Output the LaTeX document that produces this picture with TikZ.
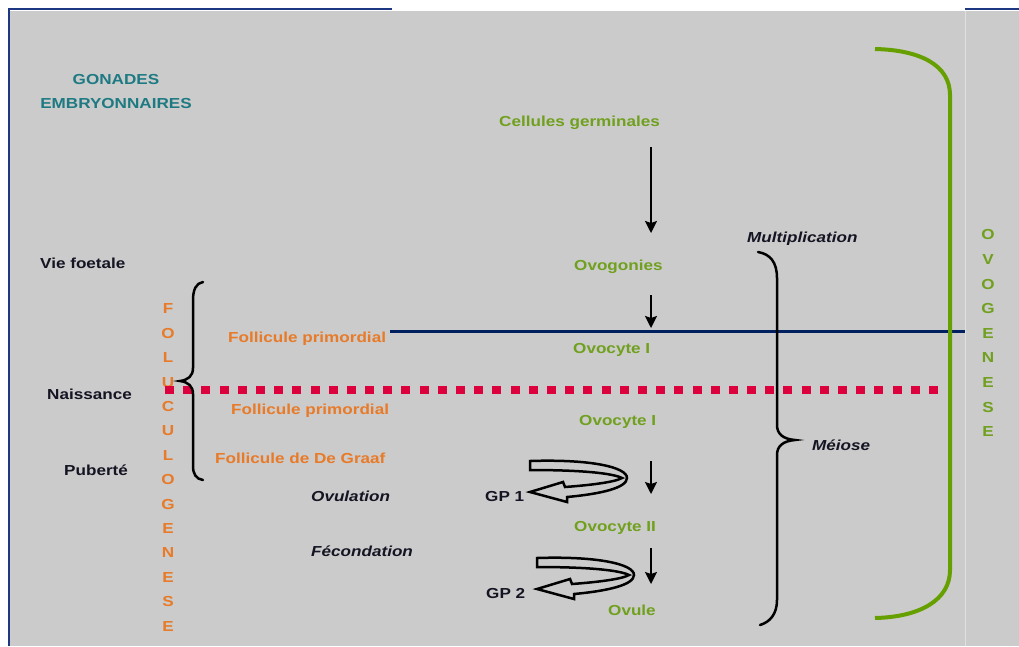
\documentclass[tikz,border=0pt]{standalone}
\usepackage{fontspec}
\setmainfont[FakeStretch=1.18]{Liberation Sans}
\usetikzlibrary{arrows.meta}
\definecolor{bg}{RGB}{203,203,203}
\definecolor{frame}{RGB}{30,55,130}
\definecolor{navy}{RGB}{0,32,96}
\definecolor{tgreen}{RGB}{112,160,30}
\definecolor{bgreen}{RGB}{102,160,0}
\definecolor{torange}{RGB}{232,122,40}
\definecolor{tteal}{RGB}{30,122,130}
\definecolor{tblack}{RGB}{20,20,35}
\definecolor{dred}{RGB}{220,0,60}
\begin{document}
\begin{tikzpicture}[x=1pt,y=-1pt,
  lbl/.style={font=\fontsize{14.5}{16}\selectfont\bfseries, inner sep=0pt, anchor=west},
  lblit/.style={font=\fontsize{14.5}{16}\selectfont\bfseries\itshape, inner sep=0pt, anchor=west, text=tblack},
  gtxt/.style={lbl, text=tgreen},
  otxt/.style={lbl, text=torange},
  btxt/.style={lbl, text=tblack},
  ttxt/.style={lbl, text=tteal, anchor=center},
  vletter/.style={font=\fontsize{14.5}{16}\selectfont\bfseries, inner sep=0pt, anchor=center},
  flow/.style={line width=2pt, draw=black, -{Stealth[length=12pt,width=12pt,inset=2pt]}},
  bracestyle/.style={line width=2.5pt, draw=black, line cap=round},
  gparrowstyle/.style={line width=2.5pt, draw=black, fill=bg, line join=miter}]
\useasboundingbox (0,0) rectangle (1019,646);
% background
\fill[white] (0,0) rectangle (1019,646);
\fill[bg] (10,11) rectangle (1019,646);
\draw[white!40!bg, line width=1pt] (965,11) -- (965,646);
\draw[frame, line width=2.5pt] (9,646) -- (9,9) -- (392,9);
\draw[frame, line width=2.5pt] (965,9) -- (1019,9);

% top left title
\node[ttxt] (gon) at (116,80) {GONADES};
\node[ttxt] (emb) at (116,104) {EMBRYONNAIRES};

% left time labels
\node[btxt] (vie) at (40,263) {Vie foetale};
\node[btxt] (nais) at (47,394) {Naissance};
\node[btxt] (pub) at (64,470) {Puberté};

% ovogenesis chain
\node[gtxt] (cg) at (499,123) {Cellules germinales};
\node[gtxt] (ovg) at (574,267) {Ovogonies};
\node[gtxt] (ov1a) at (573,350) {Ovocyte I};
\node[gtxt] (ov1b) at (579,422) {Ovocyte I};
\node[gtxt] (ov2) at (574,528) {Ovocyte II};
\node[gtxt] (ovu) at (608,610) {Ovule};

% follicles
\node[otxt] (fp1) at (228,339) {Follicule primordial};
\node[otxt] (fp2) at (231,411) {Follicule primordial};
\node[otxt] (fdg) at (215,458) {Follicule de De Graaf};

% events
\node[lblit] (ovul) at (311,496) {Ovulation};
\node[lblit] (fec) at (311,551) {Fécondation};
\node[btxt] (gp1) at (485,496) {GP 1};
\node[btxt] (gp2) at (486,593) {GP 2};
\node[lblit] (mult) at (747,239) {Multiplication};
\node[lblit] (mei) at (812,445) {Méiose};

% vertical words
\foreach \l [count=\i from 0] in {F,O,L,U,C,U,L,O,G,E,N,E,S,E}
  \node[vletter, text=torange] (fol\i) at (168,309+24.4*\i) {\l};
\foreach \l [count=\i from 0] in {O,V,O,G,E,N,E,S,E}
  \node[vletter, text=tgreen] (ovo\i) at (988,235+24.6*\i) {\l};

% navy line and red dotted line
\coordinate (nl1) at (390,331);
\coordinate (nl2) at (965,331);
\draw[navy, line width=3pt] (nl1) -- (nl2);
\coordinate (rl1) at (165,390);
\coordinate (rl2) at (938,390);
\draw[dred, line width=8pt, dash pattern=on 9pt off 9.19pt] (rl1) -- (rl2);

% vertical arrows
\coordinate (a1s) at (651,147);
\coordinate (a1e) at (651,233);
\coordinate (a2s) at (651,295);
\coordinate (a2e) at (651,328);
\coordinate (a3s) at (651,461);
\coordinate (a3e) at (651,494);
\coordinate (a4s) at (651,548);
\coordinate (a4e) at (651,584);
\draw[flow] (a1s) -- (a1e);
\draw[flow] (a2s) -- (a2e);
\draw[flow] (a3s) -- (a3e);
\draw[flow] (a4s) -- (a4e);

% braces
\draw[bracestyle] (203,282) .. controls (196,283) and (193,290) .. (193,300) -- (193,368)
  .. controls (193,376) and (188,380) .. (180,381)
  .. controls (188,382) and (193,386) .. (193,394) -- (193,466)
  .. controls (193,474) and (196,479) .. (203,480);
\draw[bracestyle] (758,252) .. controls (770,254) and (777,262) .. (777,278) -- (777,425)
  .. controls (777,434) and (783,439) .. (795,440)
  .. controls (783,441) and (777,446) .. (777,455) -- (777,600)
  .. controls (777,614) and (770,622) .. (760,625);

% green bracket
\draw[bgreen, line width=4pt] (875,49) .. controls (920,50) and (950,65) .. (950,95)
  -- (950,570) .. controls (950,600) and (920,617) .. (875,618);

% curved block arrows
\foreach \ox/\oy in {530/461, 537/558}{
\draw[gparrowstyle, shift={(\ox,\oy)}]
  (0,0) .. controls (60,-2) and (97,6) .. (97,17)
  .. controls (97,27) and (70,33) .. (37,36) -- (37,41) -- (0,31) -- (33,21) -- (35,26)
  .. controls (62,24) and (85,21) .. (92,17)
  .. controls (82,12) and (50,9) .. (0,9) -- cycle;
}
\end{tikzpicture}
\end{document}
